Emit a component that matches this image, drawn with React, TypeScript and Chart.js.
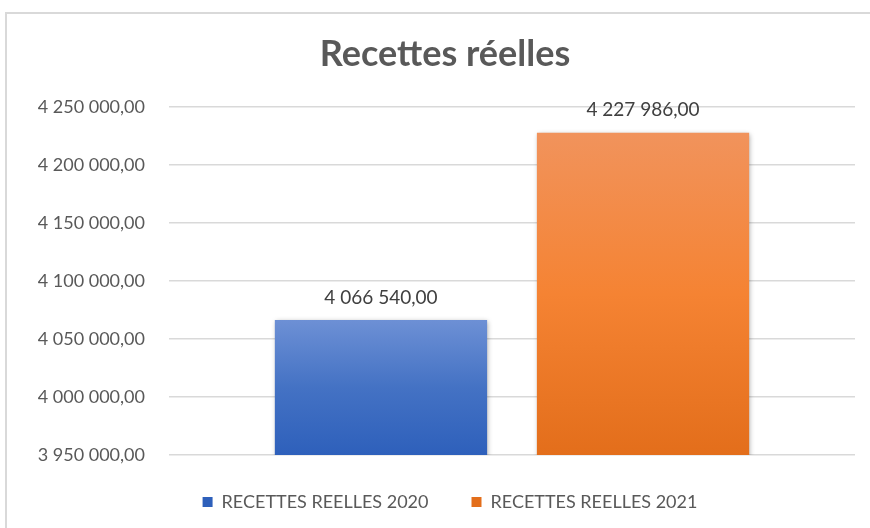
import React, { useEffect, useRef } from "react";
import { Chart, registerables } from "chart.js";

Chart.register(...registerables);

const categories = [""];
const seriesLabels = ["RECETTES REELLES 2020", "RECETTES REELLES 2021"];
const values2020 = [4066540];
const values2021 = [4227986];
const yMin = 3950000;
const yMax = 4250000;
const yStep = 50000;

const FONT = "Lato, 'Open Sans', sans-serif";
const TEXT = "#595959";

function fmt(v: number): string {
  const parts = Math.round(v).toString();
  const withSpaces = parts.replace(/\B(?=(\d{3})+(?!\d))/g, " ");
  return withSpaces + ",00";
}

const gradients: Record<string, [string, string, string]> = {
  blue: ["#6d90d5", "#4472c4", "#2e60bb"],
  orange: ["#f1935c", "#f58333", "#e36e1b"],
};

function barFill(key: string) {
  return (ctx: any) => {
    const chart = ctx.chart;
    const area = chart.chartArea;
    const yScale = chart.scales && chart.scales.y;
    if (!area || !yScale || ctx.raw == null) return gradients[key][1];
    const top = yScale.getPixelForValue(ctx.raw);
    const bottom = area.bottom;
    if (!isFinite(top) || bottom - top < 1) return gradients[key][1];
    const g = chart.ctx.createLinearGradient(0, top, 0, bottom);
    g.addColorStop(0, gradients[key][0]);
    g.addColorStop(0.5, gradients[key][1]);
    g.addColorStop(1, gradients[key][2]);
    return g;
  };
}

const shadowPlugin = {
  id: "barShadow",
  beforeDatasetsDraw(chart: any) {
    const c = chart.ctx;
    c.save();
    c.shadowColor = "rgba(0,0,0,0.35)";
    c.shadowBlur = 5;
    c.shadowOffsetX = 1;
    c.shadowOffsetY = 1;
  },
  afterDatasetsDraw(chart: any) {
    chart.ctx.restore();
  },
};

const labelPlugin = {
  id: "valueLabels",
  afterDatasetsDraw(chart: any) {
    const c = chart.ctx;
    c.save();
    c.font = `19px ${FONT}`;
    c.fillStyle = "#404040";
    c.textAlign = "center";
    c.textBaseline = "bottom";
    chart.data.datasets.forEach((ds: any, i: number) => {
      const meta = chart.getDatasetMeta(i);
      meta.data.forEach((el: any, j: number) => {
        c.fillText(fmt(ds.data[j]), el.x, el.y - 13);
      });
    });
    c.restore();
  },
};

// nudge the legend and title blocks to sit where the reference puts them
const blockShift = {
  id: "blockShift",
  afterLayout(chart: any) {
    const lg = chart.legend;
    if (lg) {
      lg.left += 40;
      lg.top -= 5;
      lg.bottom -= 5;
    }
    const tb = chart.titleBlock;
    if (tb) {
      tb.left += 30;
    }
  },
};

export default function App() {
  const ref = useRef<HTMLCanvasElement | null>(null);
  useEffect(() => {
    if (!ref.current) return;
    const chart = new Chart(ref.current, {
      type: "bar",
      data: {
        labels: categories,
        datasets: [
          {
            label: seriesLabels[0],
            data: values2020,
            backgroundColor: barFill("blue"),
            borderWidth: 0,
          },
          {
            label: seriesLabels[1],
            data: values2021,
            backgroundColor: barFill("orange"),
            borderWidth: 0,
          },
        ],
      },
      options: {
        responsive: false,
        animation: false,
        devicePixelRatio: 1,
        categoryPercentage: 0.764,
        barPercentage: 0.81,
        layout: { padding: { left: 5, right: 15, top: 0, bottom: 2 } },
        plugins: {
          title: {
            display: true,
            text: "Recettes réelles",
            color: TEXT,
            font: { family: FONT, size: 36, weight: "bold" },
            padding: { top: 33, bottom: 31 },
          },
          legend: {
            position: "bottom",
            labels: {
              color: TEXT,
              font: { family: FONT, size: 18 },
              boxWidth: 10,
              boxHeight: 10,
              padding: 43,
              useBorderRadius: false,
            },
          },
          tooltip: { enabled: false },
        },
        scales: {
          x: {
            ticks: { display: false },
            grid: { display: false, drawTicks: false },
            border: { display: false },
          },
          y: {
            min: yMin,
            max: yMax,
            ticks: {
              stepSize: yStep,
              color: TEXT,
              font: { family: FONT, size: 18 },
              padding: 24,
              callback: (v: any) => fmt(Number(v)),
            },
            grid: { color: "#d9d9d9", lineWidth: 1.5, drawTicks: false },
            border: { display: false },
            afterFit: (scale: any) => {
              scale.width = 164;
            },
          },
        },
      },
      plugins: [shadowPlugin, labelPlugin, blockShift],
    });
    return () => chart.destroy();
  }, []);

  return (
    <div
      style={{
        position: "fixed",
        left: 0,
        top: 0,
        width: 870,
        height: 528,
        background: "#ffffff",
        overflow: "hidden",
      }}
    >
      <div
        style={{
          position: "absolute",
          left: 5,
          top: 12,
          width: 870,
          height: 540,
          border: "2px solid #d9d9d9",
          boxSizing: "border-box",
        }}
      />
      <canvas
        ref={ref}
        width={870}
        height={528}
        style={{ position: "absolute", left: 0, top: 0, width: 870, height: 528 }}
      />
    </div>
  );
}
